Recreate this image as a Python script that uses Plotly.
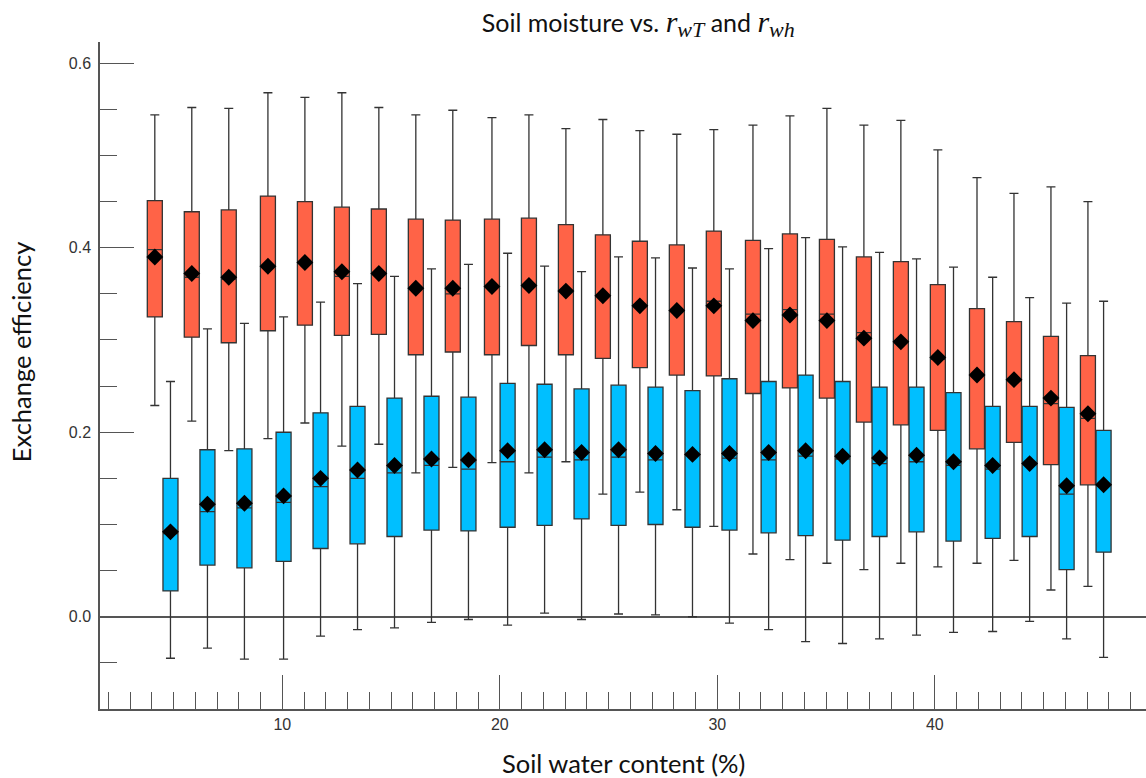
import plotly.graph_objects as go

# Soil water content bins (%)
soil_water = [4.5, 6.2, 7.9, 9.7, 11.4, 13.1, 14.8, 16.5, 18.2, 20.0, 21.7, 23.4, 25.1,
              26.8, 28.5, 30.2, 32.0, 33.7, 35.4, 37.1, 38.8, 40.5, 42.3, 44.0, 45.7, 47.4]

# r_wT (red) box statistics
rwT_upper = [0.544, 0.552, 0.551, 0.568, 0.563, 0.568, 0.552, 0.544, 0.549, 0.541, 0.544, 0.529, 0.539,
             0.527, 0.523, 0.528, 0.533, 0.543, 0.551, 0.533, 0.538, 0.506, 0.476, 0.459, 0.466, 0.450]
rwT_q3 = [0.451, 0.439, 0.441, 0.456, 0.450, 0.444, 0.442, 0.431, 0.430, 0.431, 0.432, 0.425, 0.414,
          0.407, 0.403, 0.418, 0.408, 0.415, 0.409, 0.390, 0.385, 0.360, 0.334, 0.320, 0.304, 0.283]
rwT_median = [0.398, 0.368, 0.366, 0.380, 0.384, 0.369, 0.372, 0.356, 0.350, 0.358, 0.359, 0.353, 0.348,
              0.337, 0.332, 0.342, 0.328, 0.333, 0.328, 0.308, 0.298, 0.279, 0.262, 0.257, 0.231, 0.215]
rwT_q1 = [0.325, 0.303, 0.297, 0.310, 0.316, 0.305, 0.306, 0.284, 0.287, 0.284, 0.294, 0.284, 0.280,
          0.270, 0.262, 0.261, 0.242, 0.248, 0.237, 0.211, 0.208, 0.202, 0.182, 0.189, 0.165, 0.143]
rwT_lower = [0.229, 0.212, 0.180, 0.193, 0.210, 0.185, 0.187, 0.156, 0.162, 0.167, 0.156, 0.168, 0.133,
             0.135, 0.116, 0.098, 0.068, 0.062, 0.058, 0.051, 0.058, 0.054, 0.058, 0.061, 0.029, 0.033]
rwT_mean = [0.390, 0.372, 0.368, 0.380, 0.384, 0.374, 0.372, 0.356, 0.356, 0.358, 0.359, 0.353, 0.348,
            0.337, 0.332, 0.337, 0.321, 0.327, 0.321, 0.302, 0.298, 0.281, 0.262, 0.257, 0.237, 0.220]

# r_wh (blue) box statistics
rwh_upper = [0.255, 0.312, 0.318, 0.325, 0.341, 0.361, 0.369, 0.377, 0.382, 0.394, 0.380, 0.374, 0.390,
             0.389, 0.378, 0.377, 0.399, 0.411, 0.401, 0.395, 0.388, 0.379, 0.368, 0.346, 0.340, 0.342]
rwh_q3 = [0.150, 0.181, 0.182, 0.200, 0.221, 0.228, 0.237, 0.239, 0.238, 0.253, 0.252, 0.247, 0.251,
          0.249, 0.245, 0.258, 0.255, 0.262, 0.255, 0.249, 0.249, 0.243, 0.228, 0.228, 0.227, 0.202]
rwh_median = [0.090, 0.114, 0.118, 0.124, 0.141, 0.150, 0.156, 0.164, 0.160, 0.168, 0.173, 0.170, 0.173,
              0.170, 0.176, 0.172, 0.170, 0.174, 0.171, 0.166, 0.168, 0.164, 0.160, 0.165, 0.133, 0.143]
rwh_q1 = [0.028, 0.056, 0.053, 0.060, 0.074, 0.079, 0.087, 0.094, 0.093, 0.097, 0.099, 0.106, 0.099,
          0.100, 0.097, 0.094, 0.091, 0.088, 0.083, 0.087, 0.092, 0.082, 0.085, 0.087, 0.051, 0.070]
rwh_lower = [-0.045, -0.034, -0.046, -0.046, -0.021, -0.014, -0.012, -0.006, -0.003, -0.009, 0.004, -0.003, 0.003,
             0.002, 0.000, -0.007, -0.014, -0.027, -0.029, -0.024, -0.020, -0.017, -0.016, -0.005, -0.024, -0.044]
rwh_mean = [0.092, 0.122, 0.123, 0.131, 0.150, 0.159, 0.164, 0.171, 0.170, 0.180, 0.181, 0.178, 0.181,
            0.177, 0.176, 0.177, 0.178, 0.180, 0.174, 0.172, 0.175, 0.168, 0.164, 0.166, 0.142, 0.143]

RED = "#FF6347"
BLUE = "#00BFFF"
EDGE = "#333333"
AXIS = "#555555"

offset = 0.36
box_w = 0.69
x_red = [v - offset for v in soil_water]
x_blue = [v + offset for v in soil_water]

fig = go.Figure()

for xs, up, q3, med, q1, lo, color, name in [
    (x_red, rwT_upper, rwT_q3, rwT_median, rwT_q1, rwT_lower, RED, "r_wT"),
    (x_blue, rwh_upper, rwh_q3, rwh_median, rwh_q1, rwh_lower, BLUE, "r_wh"),
]:
    fig.add_trace(go.Box(
        x=xs, q1=q1, median=med, q3=q3, lowerfence=lo, upperfence=up,
        width=box_w, whiskerwidth=0.6,
        fillcolor=color, line=dict(color=EDGE, width=1.3),
        name=name, showlegend=False, hoverinfo="skip",
    ))

for xs, means in [(x_red, rwT_mean), (x_blue, rwh_mean)]:
    fig.add_trace(go.Scatter(
        x=xs, y=means, mode="markers",
        marker=dict(symbol="diamond", size=13, color="black"),
        showlegend=False, hoverinfo="skip",
    ))

tick_font = dict(family="Liberation Sans, Arial, sans-serif", size=16, color="#333333")
label_font = dict(family="Lato, Open Sans, sans-serif", size=25.5, color="#111111")

SERIF = "font-family:'Liberation Serif';font-size:30px"
SERIF_SUB = "font-family:'Liberation Serif';font-size:22px"

fig.update_layout(
    width=1146, height=778,
    margin=dict(l=100, r=0, t=42, b=69),
    paper_bgcolor="white", plot_bgcolor="white",
    boxmode="overlay",
    title=dict(
        text=("Soil moisture vs. "
              f"<span style=\"{SERIF}\"><i>r</i></span>"
              f"<sub><span style=\"{SERIF_SUB}\"><i>wT</i></span></sub>"
              " and "
              f"<span style=\"{SERIF}\"><i>r</i></span>"
              f"<sub><span style=\"{SERIF_SUB}\"><i>wh</i></span></sub>"),
        x=0.557, xanchor="center", y=0.97, yanchor="middle",
        font=dict(family="Lato, Open Sans, sans-serif", size=25, color="#111111"),
    ),
    xaxis=dict(
        range=[1.62, 49.71],
        showgrid=False, zeroline=False,
        showline=True, linecolor=AXIS, linewidth=1.5,
        tickmode="linear", tick0=0, dtick=10,
        ticks="inside", ticklen=34, tickwidth=1.3, tickcolor=AXIS,
        minor=dict(dtick=1, tick0=0, ticks="inside", ticklen=17, tickwidth=1.3, tickcolor=AXIS),
        tickfont=tick_font,
    ),
    yaxis=dict(
        range=[-0.1, 0.623],
        showgrid=False,
        zeroline=True, zerolinecolor=AXIS, zerolinewidth=1.5,
        showline=True, linecolor=AXIS, linewidth=1.5,
        tickmode="linear", tick0=0, dtick=0.2, tickformat=".1f",
        ticks="inside", ticklen=34, tickwidth=1.3, tickcolor=AXIS,
        minor=dict(dtick=0.05, tick0=0, ticks="inside", ticklen=17, tickwidth=1.3, tickcolor=AXIS),
        tickfont=tick_font, ticklabelstandoff=4,
    ),
    annotations=[
        dict(text="Exchange efficiency", xref="paper", yref="paper",
             x=-0.0755, y=0.535, textangle=-90, showarrow=False,
             xanchor="center", yanchor="middle", font=label_font),
        dict(text="Soil water content (%)", xref="paper", yref="paper",
             x=0.5, y=-0.081, showarrow=False,
             xanchor="center", yanchor="middle", font=label_font),
    ],
)

fig.write_html("out.html")
